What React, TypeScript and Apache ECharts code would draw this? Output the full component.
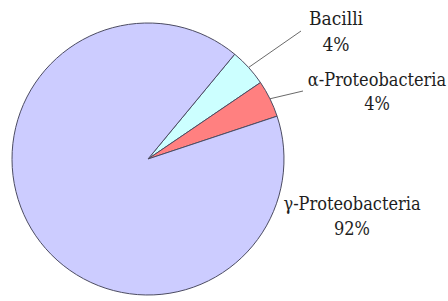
import React, { useEffect, useRef } from "react";
import * as echarts from "echarts";

const categories = ["Bacilli", "α-Proteobacteria", "γ-Proteobacteria"];
const shares = [4.5, 4.4, 91.1];
const percentLabels = ["4%", "4%", "92%"];
const colors = ["#CCFFFF", "#FF8080", "#CCCCFF"];

// label placement (block centre) and leader-line end, per slice
const labelSpots = [
  { x: 336, y: 31, lineEnd: [301, 31] as number[] | null },
  { x: 377, y: 91, lineEnd: [303, 91] as number[] | null },
  { x: 352, y: 216, lineEnd: null as number[] | null },
];

const serif = "'DejaVu Serif Condensed', 'DejaVu Serif', serif";

export default function App() {
  const ref = useRef<HTMLDivElement>(null);
  useEffect(() => {
    if (!ref.current) return;
    const chart = echarts.init(ref.current, undefined, { renderer: "svg" });
    chart.setOption({
      animation: false,
      backgroundColor: "#ffffff",
      textStyle: { fontFamily: serif },
      series: [
        {
          type: "pie",
          center: [148, 159],
          radius: [0, 136],
          startAngle: 50.4,
          clockwise: true,
          silent: true,
          avoidLabelOverlap: false,
          emphasis: { disabled: true },
          itemStyle: { borderColor: "#4c4c62", borderWidth: 1 },
          label: {
            show: true,
            position: "outside",
            alignTo: "none",
            overflow: "none",
            fontFamily: serif,
            fontSize: 18,
            lineHeight: 25,
            color: "#1e1e1e",
            align: "center",
          },
          labelLine: {
            show: true,
            length: 20,
            length2: 10,
            lineStyle: { color: "#6a6a6a", width: 1 },
          },
          labelLayout: (p: any) => {
            const s = labelSpots[p.dataIndex];
            const out: any = {
              x: s.x,
              y: s.y,
              align: "center",
              verticalAlign: "middle",
              hideOverlap: false,
            };
            if (s.lineEnd && p.labelLinePoints && p.labelLinePoints[0]) {
              out.labelLinePoints = [p.labelLinePoints[0], s.lineEnd];
            }
            return out;
          },
          data: categories.map((name, i) => ({
            name,
            value: shares[i],
            itemStyle: { color: colors[i] },
            label: {
              formatter: `${name}\n${percentLabels[i]}`,
              fontSize: i === 0 ? 19 : 18,
              lineHeight: i === 0 ? 26 : i === 1 ? 24 : 25,
            },
            labelLine: { show: i !== 2 },
          })),
        },
      ],
    });
    return () => chart.dispose();
  }, []);
  return (
    <div
      ref={ref}
      style={{ position: "fixed", left: 0, top: 0, width: 448, height: 301 }}
    />
  );
}
